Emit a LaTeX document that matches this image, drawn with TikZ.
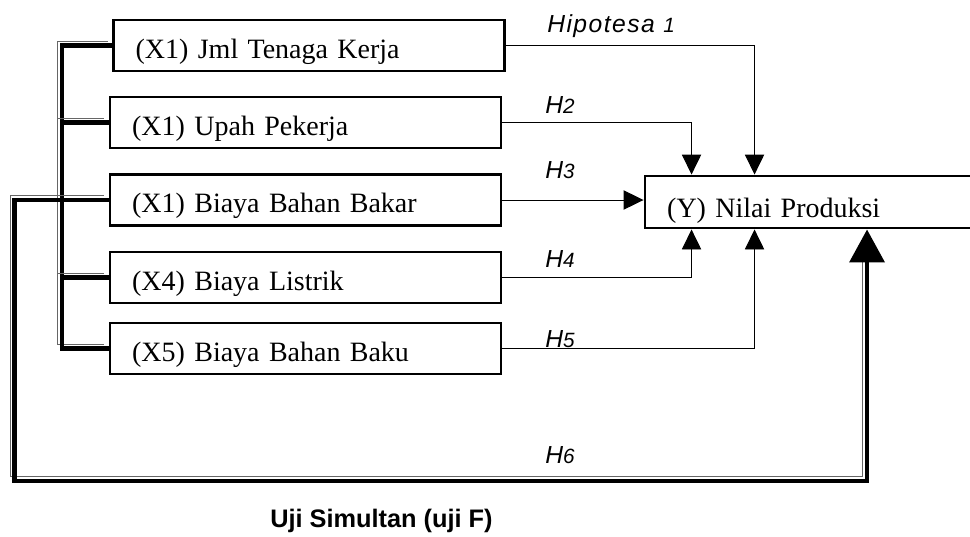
\documentclass[tikz,border=0pt]{standalone}
\usepackage{fontspec}
\setmainfont{Liberation Serif}
\newfontfamily\hfont[LetterSpace=6]{Liberation Sans}
\newfontfamily\ufont{Liberation Sans}
\usetikzlibrary{calc,arrows.meta,positioning}
\tikzset{
  var/.style={draw, line width=2.2pt, minimum width=293.25pt, minimum height=38.25pt,
    text width=260pt, align=left, inner xsep=16.5pt, inner ysep=0pt,
    text height=18.8pt, text depth=0pt, font=\fontsize{21}{24}\selectfont},
  hyp/.style={line width=0.7pt, -{Triangle[length=15pt,width=14.5pt]}},
  hlab/.style={anchor=base west, inner sep=0pt, font=\hfont\itshape\fontsize{18.5}{22}\selectfont},
  dbl/.style={line width=3.6pt, preaction={draw, -, line width=0.7pt, black!60,
    transform canvas={shift={(-3.4pt,3.4pt)}}, #1}},
  dbl/.default={}
}
\newcommand{\hnum}[1]{{\fontsize{15.5}{17}\selectfont #1}}

\begin{document}
\begin{tikzpicture}[x=0.75pt, y=-0.75pt]
  \clip (0,0) rectangle (970,536);
  \node[var] (x1) at (309,45.5) {(X1) Jml Tenaga Kerja};
  \node[var] (x2) at (305.5,122.5) {(X1) Upah Pekerja};
  \node[var] (x3) at (305.5,200) {(X1) Biaya Bahan Bakar};
  \node[var] (x4) at (305.5,277.5) {(X4) Biaya Listrik};
  \node[var] (x5) at (305.5,348.5) {(X5) Biaya Bahan Baku};
  \node[var, minimum width=251.25pt, minimum height=39pt, text width=218pt, text height=22.5pt]
    (y) at (812.5,202) {(Y) Nilai Produksi};

  \draw[hyp] (x1.east) -| ($(y.north west)+(111,0)$);
  \draw[hyp] (x2.east) -| ($(y.north west)+(48,0)$);
  \draw[hyp] (x3.east) -- (x3.east -| y.west);
  \draw[hyp] (x4.east) -| ($(y.south west)+(48,0)$);
  \draw[hyp] (x5.east) -| ($(y.south west)+(111,0)$);

  \node[hlab] (h1) at (547,32) {Hipotesa \hnum{1}};
  \node[hlab] (h2) at (545,113) {H\hnum{2}};
  \node[hlab] (h3) at (545,178) {H\hnum{3}};
  \node[hlab] (h4) at (545,267) {H\hnum{4}};
  \node[hlab] (h5) at (545,347) {H\hnum{5}};
  \node[hlab] (h6) at (545,463) {H\hnum{6}};

  \coordinate (brk) at (62,0);
  \coordinate (lp) at (14.5,481);
  \draw[dbl] (x1.west) -- (x1.west -| brk) -- (x5.west -| brk) -- (x5.west);
  \foreach \n in {2,4} \draw[dbl] (x\n.west) -- (x\n.west -| brk);
  \draw[dbl={shorten >=24pt}, -{Triangle[length=24.75pt,width=26pt]}]
    (x3.west) -| (lp) -| ($(y.south west)+(223.5,0)$);

  \node[anchor=base west, inner sep=0pt, font=\ufont\bfseries\fontsize{19}{22}\selectfont]
    (uji) at (270,527) {Uji Simultan (uji F)};
\end{tikzpicture}
\end{document}
